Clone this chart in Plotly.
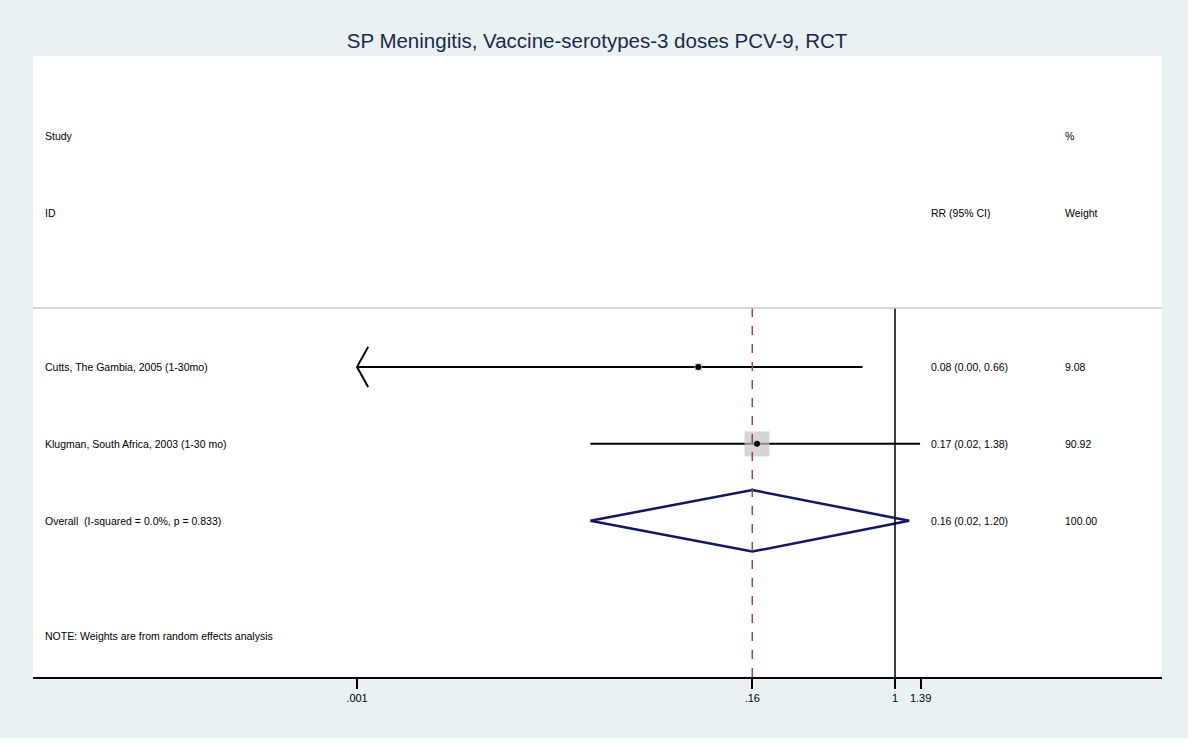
import numpy as np
import plotly.graph_objects as go

# study rows
studies = ['Cutts, The Gambia, 2005 (1-30mo)', 'Klugman, South Africa, 2003 (1-30 mo)']
rr = [0.08, 0.17]
rr_lo = [0.00, 0.02]
rr_hi = [0.66, 1.38]
weights = [9.08, 90.92]

# pooled estimate
overall_label = 'Overall  (I-squared = 0.0%, p = 0.833)'
overall_rr = 0.16
overall_lo = 0.02
overall_hi = 1.20
overall_weight = 100.00

tick_vals = [0.001, 0.16, 1, 1.39]
tick_text = ['.001', '.16', '1', '1.39']
x_clip = 0.001

title = 'SP Meningitis, Vaccine-serotypes-3 doses PCV-9, RCT'
note = 'NOTE: Weights are from random effects analysis'

BG = '#eaf1f3'
FONT = 'Liberation Sans, Arial, sans-serif'
W, H = 1188, 738
L, R, T, B = 33, 26, 56, 61

rows = list(range(1, len(studies) + 1))
overall_row = len(studies) + 1
y_top, y_bottom = -3.04, 5.03
y_div = 0.234

fig = go.Figure()

# CI lines + arrow for clipped lower bounds
for y, est, lo, hi in zip(rows, rr, rr_lo, rr_hi):
    lo_plot = max(lo, x_clip)
    fig.add_trace(go.Scatter(x=[lo_plot, hi], y=[y, y], mode='lines',
                             line=dict(color='black', width=2), hoverinfo='skip'))
    if lo < x_clip:
        ah = x_clip * 10 ** 0.062
        fig.add_trace(go.Scatter(x=[ah, x_clip, ah], y=[y - 0.26, y, y + 0.26], mode='lines',
                                 line=dict(color='black', width=2), hoverinfo='skip'))

# weight boxes and point estimates
box_sizes = [25 * np.sqrt(w / max(weights)) for w in weights]
fig.add_trace(go.Scatter(x=rr, y=rows, mode='markers',
                         marker=dict(symbol='square', size=box_sizes, color='#c4c4c4', line=dict(width=0))))
fig.add_trace(go.Scatter(x=rr, y=rows, mode='markers',
                         marker=dict(symbol='circle', size=6, color='black')))

# overall diamond
dh = 0.4
fig.add_trace(go.Scatter(x=[overall_lo, overall_rr, overall_hi, overall_rr, overall_lo],
                         y=[overall_row, overall_row - dh, overall_row, overall_row + dh, overall_row],
                         mode='lines', line=dict(color='#14146b', width=2.5), hoverinfo='skip'))

# null line and overall dashed line
fig.add_trace(go.Scatter(x=[1, 1], y=[y_div, y_bottom], mode='lines',
                         line=dict(color='black', width=1.5), hoverinfo='skip'))
fig.add_trace(go.Scatter(x=[overall_rr, overall_rr], y=[y_div, y_bottom], mode='lines',
                         line=dict(color='#9c4458', width=1.5, dash='dash'), hoverinfo='skip'))

# header divider
fig.add_shape(type='line', xref='paper', yref='y', x0=0, x1=1, y0=y_div, y1=y_div,
              line=dict(color='#c8c8c8', width=1.5))

# text columns
pw = W - L - R
x_id, x_rr, x_w = (43 - L) / pw, (929 - L) / pw, (1063 - L) / pw
txt = dict(xref='paper', yref='y', xanchor='left', yanchor='middle', showarrow=False,
           font=dict(family=FONT, size=10.5, color='black'))
fig.add_annotation(x=x_id, y=-2, text='Study', **txt)
fig.add_annotation(x=x_id, y=-1, text='ID', **txt)
fig.add_annotation(x=x_rr, y=-1, text='RR (95% CI)', **txt)
fig.add_annotation(x=x_w, y=-2, text='%', **txt)
fig.add_annotation(x=x_w, y=-1, text='Weight', **txt)
for y, s, est, lo, hi, w in zip(rows, studies, rr, rr_lo, rr_hi, weights):
    fig.add_annotation(x=x_id, y=y, text=s, **txt)
    fig.add_annotation(x=x_rr, y=y, text=f'{est:.2f} ({lo:.2f}, {hi:.2f})', **txt)
    fig.add_annotation(x=x_w, y=y, text=f'{w:.2f}', **txt)
fig.add_annotation(x=x_id, y=overall_row, text=overall_label, **txt)
fig.add_annotation(x=x_rr, y=overall_row, text=f'{overall_rr:.2f} ({overall_lo:.2f}, {overall_hi:.2f})', **txt)
fig.add_annotation(x=x_w, y=overall_row, text=f'{overall_weight:.2f}', **txt)
fig.add_annotation(x=x_id, y=4.5, text=note, **txt)

fig.update_xaxes(type='log', range=[-4.807, 1.489], tickvals=tick_vals, ticktext=tick_text,
                 ticks='outside', ticklen=10, tickwidth=1.5, tickcolor='black',
                 showline=True, linecolor='black', linewidth=1.5, showgrid=False, zeroline=False,
                 tickfont=dict(family=FONT, size=11, color='black'))
fig.update_yaxes(range=[y_bottom, y_top], visible=False)
fig.update_layout(width=W, height=H, margin=dict(l=L, r=R, t=T, b=B),
                  paper_bgcolor=BG, plot_bgcolor='white', showlegend=False,
                  title=dict(text=title, x=(597 / W), xanchor='center', y=1 - 41 / H, yanchor='middle',
                             font=dict(family=FONT, size=20.5, color='#1b2a4a')))

fig.write_html('out.html', config={'displayModeBar': False},
               post_script="document.body.style.margin='0';")
